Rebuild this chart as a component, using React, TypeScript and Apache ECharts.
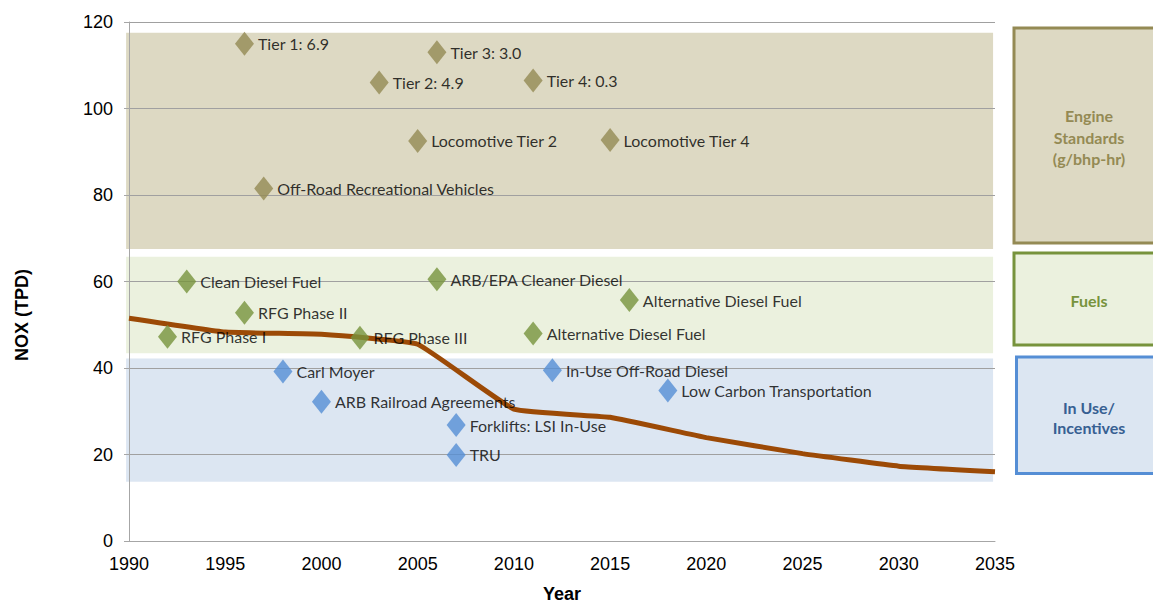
import React, { useEffect, useRef } from "react";
import * as echarts from "echarts";

const years = [1990, 1995, 2000, 2005, 2010, 2015, 2020, 2025, 2030, 2035];
const noxTpd = [51.5, 48.3, 47.8, 45.5, 30.5, 28.6, 23.9, 20.2, 17.3, 16.0];

const engineYears = [1996, 2003, 2006, 2011, 2005, 2015, 1997];
const engineValues = [115, 106, 113, 106.5, 92.5, 92.7, 81.5];
const engineLabels = ["Tier 1: 6.9", "Tier 2: 4.9", "Tier 3: 3.0", "Tier 4: 0.3", "Locomotive Tier 2", "Locomotive Tier 4", "Off-Road Recreational Vehicles"];

const fuelYears = [1993, 1996, 1992, 2002, 2006, 2011, 2016];
const fuelValues = [60, 52.8, 47.2, 47, 60.5, 48, 55.7];
const fuelLabels = ["Clean Diesel Fuel", "RFG Phase II", "RFG Phase I", "RFG Phase III", "ARB/EPA Cleaner Diesel", "Alternative Diesel Fuel", "Alternative Diesel Fuel"];

const inUseYears = [1998, 2000, 2007, 2007, 2012, 2018];
const inUseValues = [39.2, 32.2, 26.8, 19.9, 39.5, 34.8];
const inUseLabels = ["Carl Moyer", "ARB Railroad Agreements", "Forklifts: LSI In-Use", "TRU", "In-Use Off-Road Diesel", "Low Carbon Transportation"];

const bandNames = ["Engine Standards (g/bhp-hr)", "Fuels", "In Use/ Incentives"];
const bandLow = [67.5, 43.4, 13.7];
const bandHigh = [117.5, 65.7, 42.2];
const bandStart = 1989.85;
const bandEnd = 2034.9;

const yTicks = [0, 20, 40, 60, 80, 100, 120];
const xTicks = [1990, 1995, 2000, 2005, 2010, 2015, 2020, 2025, 2030, 2035];

const bandFill = ["#DDD9C3", "#EBF1DE", "#DCE6F2"];
const groupColor = ["#948A54", "#77933C", "#558ED5"];
const LABEL_FONT = "Lato, 'Noto Sans', sans-serif";
const AXIS_FONT = "'Liberation Sans', Arial, sans-serif";

function scatterSeries(name: string, xs: number[], ys: number[], labels: string[], color: string) {
  return {
    name,
    type: "scatter",
    symbol: "diamond",
    symbolSize: [19, 24],
    z: 4,
    itemStyle: { color },
    label: {
      show: true,
      position: "right",
      distance: 4,
      color: "#000",
      fontFamily: LABEL_FONT,
      fontSize: 16,
      formatter: (p: any) => p.name,
    },
    data: xs.map((x, i) => ({ name: labels[i], value: [x, ys[i]] })),
  };
}

export default function App() {
  const ref = useRef<HTMLDivElement>(null);
  useEffect(() => {
    if (!ref.current) return;
    const chart = echarts.init(ref.current, undefined, { renderer: "svg" });
    const bandData = bandLow.map((lo, i) => [bandStart, bandEnd, lo, bandHigh[i]]);
    chart.setOption({
      animation: false,
      backgroundColor: "#ffffff",
      grid: { left: 129, top: 22, right: 158, bottom: 63, containLabel: false, outerBoundsMode: "none" },
      xAxis: {
        type: "value",
        min: xTicks[0],
        max: xTicks[xTicks.length - 1],
        interval: 5,
        name: "Year",
        nameLocation: "middle",
        nameGap: 44,
        nameTextStyle: { fontFamily: AXIS_FONT, fontSize: 18, fontWeight: "bold", color: "#000" },
        axisLine: { lineStyle: { color: "#A6A6A6", width: 1 } },
        axisTick: { show: false },
        splitLine: { show: false },
        axisLabel: { margin: 14, fontFamily: AXIS_FONT, fontSize: 18, color: "#000", formatter: (v: number) => String(v) },
      },
      yAxis: {
        type: "value",
        min: yTicks[0],
        max: yTicks[yTicks.length - 1],
        interval: 20,
        axisLine: { show: true, lineStyle: { color: "#A6A6A6", width: 1 } },
        axisTick: { show: true, length: 5, lineStyle: { color: "#A6A6A6" } },
        splitLine: { show: true, lineStyle: { color: "#A0A0A0", width: 1 } },
        axisLabel: { margin: 16, fontFamily: AXIS_FONT, fontSize: 18, color: "#000" },
      },
      series: [
        {
          name: "bands",
          type: "custom",
          z: -1,
          clip: false,
          silent: true,
          encode: { x: [0, 1], y: [2, 3] },
          renderItem: (params: any, api: any) => {
            const p0 = api.coord([api.value(0), api.value(3)]);
            const p1 = api.coord([api.value(1), api.value(2)]);
            return {
              type: "rect",
              shape: { x: p0[0], y: p0[1], width: p1[0] - p0[0], height: p1[1] - p0[1] },
              style: { fill: bandFill[params.dataIndex] },
            };
          },
          data: bandData.map((d, i) => ({ name: bandNames[i], value: d })),
        },
        {
          name: "NOX",
          type: "line",
          z: 3,
          smooth: 0.1,
          symbol: "none",
          lineStyle: { color: "#9C4A06", width: 5 },
          data: years.map((y, i) => [y, noxTpd[i]]),
        },
        scatterSeries("Engine Standards", engineYears, engineValues, engineLabels, groupColor[0]),
        scatterSeries("Fuels", fuelYears, fuelValues, fuelLabels, groupColor[1]),
        scatterSeries("In Use", inUseYears, inUseValues, inUseLabels, groupColor[2]),
      ],
      graphic: [
        { type: "text", x: 22, y: 315, rotation: Math.PI / 2, style: { text: "NOX (TPD)", align: "center", verticalAlign: "middle", font: "bold 18px " + AXIS_FONT, fill: "#000" } },
        { type: "rect", shape: { x: 1014, y: 28, width: 152, height: 215 }, style: { fill: "#DDD9C3", stroke: "#948A54", lineWidth: 3 } },
        { type: "text", x: 1089, y: 137, style: { text: "Engine\nStandards\n(g/bhp-hr)", align: "center", verticalAlign: "middle", lineHeight: 21.5, font: "bold 16px " + LABEL_FONT, fill: "#948A54" } },
        { type: "rect", shape: { x: 1014, y: 253, width: 152, height: 92 }, style: { fill: "#EBF1DE", stroke: "#77933C", lineWidth: 3 } },
        { type: "text", x: 1089, y: 300, style: { text: "Fuels", align: "center", verticalAlign: "middle", font: "bold 16px " + LABEL_FONT, fill: "#77933C" } },
        { type: "rect", shape: { x: 1016.5, y: 357, width: 152, height: 116.5 }, style: { fill: "#DCE6F2", stroke: "#558ED5", lineWidth: 3 } },
        { type: "text", x: 1089, y: 417, style: { text: "In Use/\nIncentives", align: "center", verticalAlign: "middle", lineHeight: 20, font: "bold 16px " + LABEL_FONT, fill: "#376092" } },
      ],
    });
    return () => chart.dispose();
  }, []);
  return <div ref={ref} style={{ position: "fixed", left: 0, top: 0, width: 1153, height: 604 }} />;
}
